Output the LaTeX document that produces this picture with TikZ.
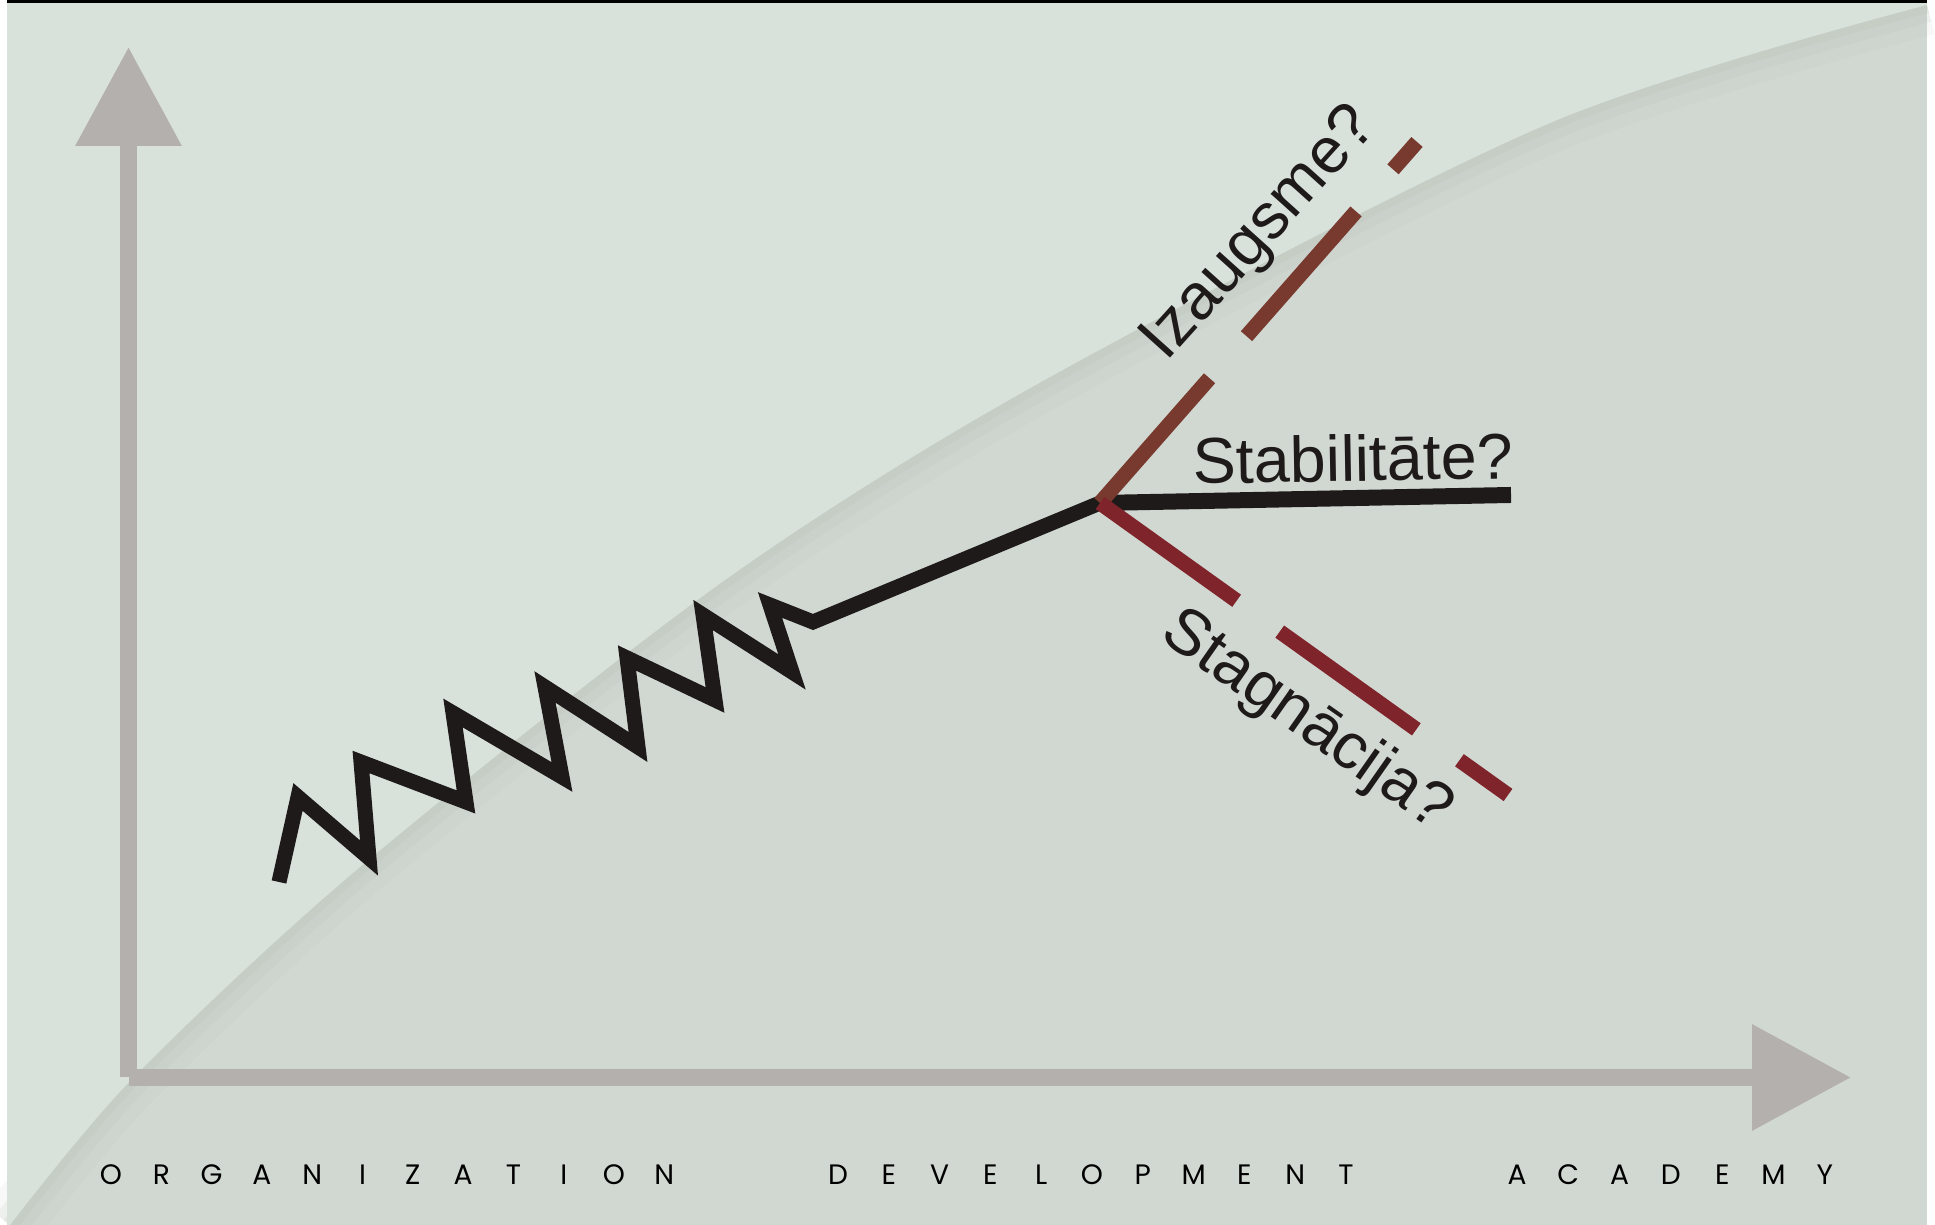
\documentclass[tikz,border=0pt]{standalone}
\usepackage{fontspec}
\setmainfont{Liberation Sans}
\newfontfamily\brandfont{Poppins}
\usetikzlibrary{arrows.meta}
\definecolor{bgdark}{HTML}{D1D8D1}
\definecolor{bglight}{HTML}{D9E1DB}
\definecolor{edgeshade}{HTML}{B5BDB5}
\definecolor{axisgray}{HTML}{B4B0AE}
\definecolor{zigblack}{HTML}{1E1A19}
\definecolor{growbrown}{HTML}{783A2E}
\definecolor{stagred}{HTML}{80242B}

\begin{document}
\begin{tikzpicture}[
    axis/.style={draw=axisgray, line width=0.17cm, -{Triangle[length=0.99cm,width=1.02cm]}},
    trend/.style={draw=zigblack, line width=0.15cm, line join=miter},
    branch/.style={line width=0.15cm},
    lbl/.style={font=\fontsize{18.4}{20}\selectfont, text=zigblack, inner sep=0pt, anchor=base west},
    brand/.style={font=\brandfont\fontsize{8}{9}\selectfont, text=black, inner sep=0pt, anchor=base}
]
\useasboundingbox (0,0) rectangle (19.35,12.25);
\fill[bgdark] (0.07,0) rectangle (19.27,12.25);
\foreach \w/\o in {0.6/0.10, 0.35/0.14, 0.16/0.2}
    \draw[edgeshade, line width=\w cm, opacity=\o] plot[smooth] coordinates {(0.10,0) (1.33,1.47) (3.60,3.58) (7.25,6.45) (10.50,8.48) (15.50,11.02) (19.27,12.20)};
\fill[bglight] (0.07,12.25) -- (0.07,0) -- plot[smooth] coordinates {(0.10,0) (1.33,1.47) (3.60,3.58) (7.25,6.45) (10.50,8.48) (15.50,11.02) (19.27,12.20)} -- (19.27,12.25) -- cycle;
\fill[black] (0.07,12.22) rectangle (19.27,12.25);

\coordinate (O) at (1.285,1.475);
\coordinate (ytop) at (1.285,11.78);
\coordinate (xend) at (18.51,1.475);
\draw[axis] (O) -- (ytop);
\draw[axis] (O) -- (xend);

\coordinate (J) at (8.13,6.03);
\coordinate (B) at (11.00,7.22);
\coordinate (stab) at (15.11,7.30);
\coordinate (grow) at (14.17,10.83);
\coordinate (stag) at (15.08,4.30);

\draw[trend] (2.79,3.43) -- (2.98,4.28) -- (3.69,3.67) -- (3.61,4.63) -- (4.66,4.23) -- (4.53,5.12)
    -- (5.62,4.48) -- (5.45,5.38) -- (6.38,4.78) -- (6.27,5.67) -- (7.15,5.25) -- (7.03,6.10)
    -- (7.92,5.53) -- (7.70,6.20) -- (J) -- (B);
\draw[trend, line width=0.16cm] (B) -- (stab);
\draw[branch, growbrown, dash pattern=on 1.66cm off 0.56cm] (B) -- (grow);
\draw[branch, stagred, dash pattern=on 1.68cm off 0.53cm] (B) -- (stag);

\node[lbl, rotate=48] (izaug) at (11.66,8.62) {Izaugsme?};
\node[lbl, rotate=1] (stabl) at (11.93,7.41) {Stabilitāte?};
\node[lbl, rotate=-35] (stagl) at (11.58,5.87) {Stagnācija?};

\foreach \ch [count=\i from 0] in {O,R,G,A,N,I,Z,A,T,I,O,N}
    \node[brand] (org\i) at ({1.11+0.503*\i},0.40) {\ch};
\foreach \ch [count=\i from 0] in {D,E,V,E,L,O,P,M,E,N,T}
    \node[brand] (dev\i) at ({8.38+0.508*\i},0.40) {\ch};
\foreach \ch [count=\i from 0] in {A,C,A,D,E,M,Y}
    \node[brand] (aca\i) at ({15.17+0.513*\i},0.40) {\ch};
\end{tikzpicture}
\end{document}
